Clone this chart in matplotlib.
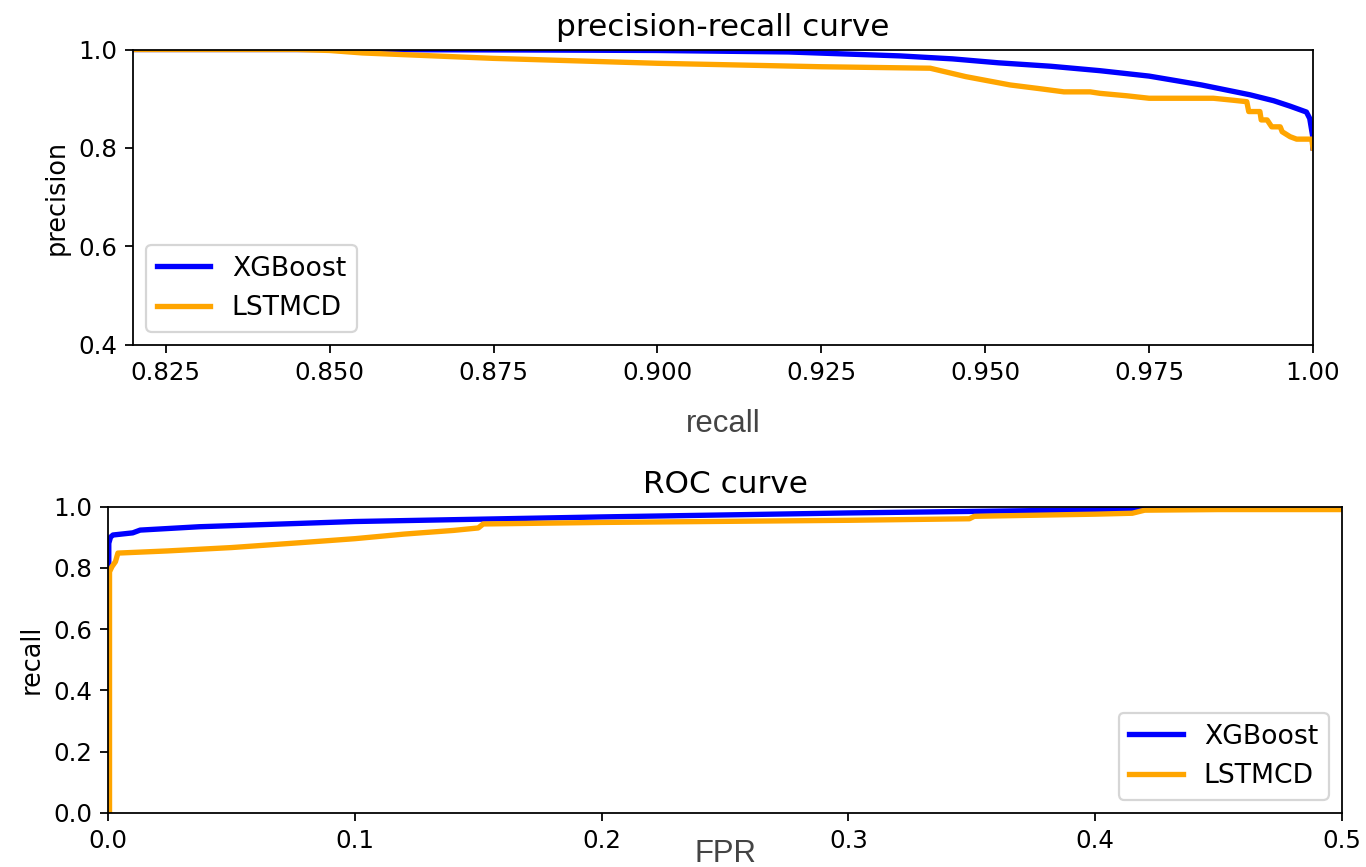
import matplotlib.pyplot as plt
import numpy as np

# precision-recall curve values
xgb_recall = [0.82, 0.85, 0.88, 0.90, 0.92, 0.937, 0.945, 0.952, 0.96, 0.9675,
              0.975, 0.983, 0.9904, 0.994, 0.9965, 0.999, 0.9995, 1.0, 1.0]
xgb_precision = [1.0, 1.0, 0.999, 0.998, 0.995, 0.987, 0.981, 0.973, 0.966, 0.957,
                 0.946, 0.928, 0.908, 0.896, 0.885, 0.873, 0.86, 0.82, 0.80]

lstm_recall = [0.82, 0.845, 0.85, 0.855, 0.875, 0.90, 0.925, 0.9416, 0.947, 0.9538,
               0.958, 0.962, 0.966, 0.9675, 0.9716, 0.975, 0.9848, 0.9878, 0.9899,
               0.9902, 0.9919, 0.9921, 0.993, 0.9937, 0.995, 0.9953, 0.9965, 0.9975,
               0.9998, 1.0]
lstm_precision = [1.0, 1.0, 0.998, 0.993, 0.982, 0.972, 0.965, 0.962, 0.945, 0.928,
                  0.921, 0.914, 0.914, 0.911, 0.906, 0.901, 0.901, 0.897, 0.894,
                  0.874, 0.874, 0.857, 0.857, 0.843, 0.843, 0.833, 0.823, 0.818,
                  0.818, 0.80]

# ROC curve values
xgb_fpr = [0.0, 0.0003, 0.0003, 0.001, 0.002, 0.01, 0.013, 0.037, 0.078, 0.1,
           0.2, 0.3, 0.4, 0.42, 0.45, 0.5]
xgb_tpr = [0.0, 0.0, 0.88, 0.90, 0.907, 0.914, 0.923, 0.934, 0.945, 0.951,
           0.966, 0.979, 0.989, 0.995, 0.999, 1.0]

lstm_fpr = [0.0, 0.0006, 0.0006, 0.0016, 0.003, 0.004, 0.024, 0.05, 0.078, 0.1,
            0.12, 0.14, 0.15, 0.152, 0.2, 0.3, 0.349, 0.351, 0.4, 0.415, 0.42,
            0.45, 0.5]
lstm_tpr = [0.0, 0.0, 0.787, 0.804, 0.82, 0.848, 0.855, 0.866, 0.882, 0.895,
            0.91, 0.922, 0.93, 0.943, 0.948, 0.955, 0.96, 0.968, 0.975, 0.978,
            0.988, 0.99, 0.99]

pr_xticks = [0.825, 0.850, 0.875, 0.900, 0.925, 0.950, 0.975, 1.0]
pr_xticklabels = ['0.825', '0.850', '0.875', '0.900', '0.925', '0.950', '0.975', '1.00']

fig = plt.figure(figsize=(1366 / 160, 867 / 160), dpi=160)

# top: precision-recall
ax1 = fig.add_axes([0.0974, 0.6021, 0.8638, 0.3408])
ax1.plot(xgb_recall, xgb_precision, color='blue', lw=2.4, label='XGBoost')
ax1.plot(lstm_recall, lstm_precision, color='orange', lw=2.4, label='LSTMCD')
ax1.set_xlim(0.82, 1.0)
ax1.set_ylim(0.4, 1.0)
ax1.set_xticks(pr_xticks)
ax1.set_xticklabels(pr_xticklabels)
ax1.set_yticks([0.4, 0.6, 0.8, 1.0])
ax1.tick_params(labelsize=11)
ax1.set_title('precision-recall curve', fontsize=14)
ax1.set_ylabel('precision', fontsize=11.5)
ax1.set_xlabel('recall', fontsize=14, family='Liberation Sans', color='#444444')
ax1.xaxis.set_label_coords(0.5, -0.215)
ax1.legend(loc='lower left', fontsize=12)

# bottom: ROC
ax2 = fig.add_axes([0.0791, 0.0623, 0.9034, 0.3535])
ax2.plot(xgb_fpr, xgb_tpr, color='blue', lw=2.4, label='XGBoost')
ax2.plot(lstm_fpr, lstm_tpr, color='orange', lw=2.4, label='LSTMCD')
ax2.set_xlim(0.0, 0.5)
ax2.set_ylim(0.0, 1.0)
ax2.set_xticks(np.arange(0, 0.51, 0.1))
ax2.set_yticks(np.arange(0, 1.01, 0.2))
ax2.tick_params(labelsize=11)
ax2.set_title('ROC curve', fontsize=14)
ax2.set_ylabel('recall', fontsize=11.5)
ax2.set_xlabel('FPR', fontsize=14, family='Liberation Sans', color='#444444')
ax2.xaxis.set_label_coords(0.5, -0.085)
ax2.legend(loc='lower right', fontsize=12)

fig.savefig('out.png', dpi=160)
